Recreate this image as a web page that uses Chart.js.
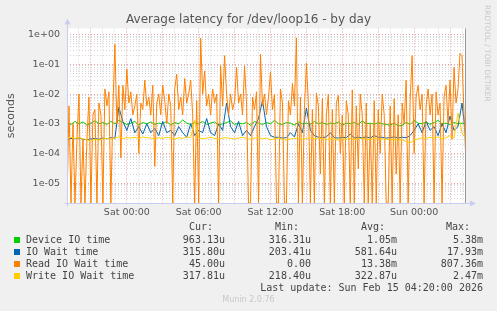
<!DOCTYPE html>
<html lang="en">
<head>
<meta charset="UTF-8">
<title>Average latency for /dev/loop16 - by day</title>
<script src="https://cdn.jsdelivr.net/npm/chart.js"></script>
<style>
  html, body { margin: 0; padding: 0; background: #f0f0f0; }
  #wrap { position: relative; width: 497px; height: 311px; overflow: hidden; }
  #c { position: absolute; left: 0; top: 0; }
  .t { position: absolute; font: 10px "DejaVu Sans Mono", monospace; color: #444; line-height: 12px; white-space: pre; }
  .sw { position: absolute; width: 6px; height: 6px; }
  #rrd { position: absolute; left: 483px; top: 5px; writing-mode: vertical-rl; font: 7.5px "DejaVu Sans", sans-serif; color: #c8c8c8; white-space: pre; }
  #munin { position: absolute; left: 0; width: 497px; top: 295px; text-align: center; font: 8px "DejaVu Sans", sans-serif; color: #c8c8c8; }
</style>
</head>
<body>
<div id="wrap">
  <canvas id="c" width="497" height="311"></canvas>
  <div id="rrd">RRDTOOL / TOBI OETIKER</div>
  <div id="munin">Munin 2.0.76</div>
</div>
<script>
// time axis: hours since Fri 00:00, one sample every 10 min (read) / 20 min (others)
const START_HOUR = 19;
const END_HOUR = 52 + 1 / 3;
const READ_STEP = 1 / 6;
const OTHER_STEP = 1 / 3;
const Y_MIN = 2.12e-6;
const Y_MAX = 1.655;

const xTickHours = [24, 30, 36, 42, 48];
const xTickLabels = ['Sat 00:00', 'Sat 06:00', 'Sat 12:00', 'Sat 18:00', 'Sun 00:00'];

const seriesNames = ['Device IO time', 'IO Wait time', 'Read IO Wait time', 'Write IO Wait time'];
const seriesColors = ['#00cc00', '#0066b3', '#ff8000', '#ffcc00'];
const curVals = ['963.13u', '315.80u', '45.00u', '317.81u'];
const minVals = ['316.31u', '203.41u', '0.00', '218.40u'];
const avgVals = ['1.05m', '581.64u', '13.38m', '322.87u'];
const maxVals = ['5.38m', '17.93m', '807.36m', '2.47m'];

const deviceIO = [
  1.1e-3, 9.5e-4, 1.2e-3, 1.0e-3, 1.15e-3, 9.0e-4, 1.05e-3, 1.25e-3, 1.0e-3, 1.1e-3,
  9.5e-4, 1.2e-3, 1.0e-3, 1.3e-3, 1.1e-3, 9.5e-4, 1.05e-3, 1.2e-3, 9.0e-4, 1.1e-3,
  1.0e-3, 1.15e-3, 9.5e-4, 1.05e-3, 1.0e-3, 1.2e-3, 9.0e-4, 1.1e-3, 1.0e-3, 1.35e-3,
  1.05e-3, 9.5e-4, 1.1e-3, 1.0e-3, 1.2e-3, 9.5e-4, 1.05e-3, 1.15e-3, 9.0e-4, 1.0e-3,
  1.1e-3, 1.25e-3, 9.5e-4, 1.05e-3, 1.0e-3, 1.1e-3, 9.0e-4, 1.2e-3, 1.05e-3, 9.5e-4,
  1.1e-3, 1.0e-3, 1.3e-3, 1.0e-3, 9.5e-4, 1.1e-3, 1.05e-3, 9.0e-4, 1.15e-3, 1.0e-3,
  1.05e-3, 9.5e-4, 1.2e-3, 1.0e-3, 1.1e-3, 9.5e-4, 1.05e-3, 1.0e-3, 1.15e-3, 9.0e-4,
  1.05e-3, 1.0e-3, 1.1e-3, 9.5e-4, 1.25e-3, 1.0e-3, 1.05e-3, 9.5e-4, 1.1e-3, 1.0e-3,
  9.5e-4, 9.0e-4, 1.05e-3, 8.5e-4, 8.8e-4, 1.1e-3, 9.5e-4, 1.3e-3, 1.05e-3, 1.0e-3,
  1.15e-3, 9.5e-4, 1.1e-3, 1.3e-3, 1.0e-3, 1.05e-3, 9.5e-4, 1.1e-3, 1.0e-3, 1.05e-3,
  9.63e-4
];

const ioWait = [
  3.0e-4, 3.2e-4, 3.1e-4, 3.3e-4, 3.0e-4, 2.9e-4, 3.1e-4, 3.2e-4, 3.0e-4, 3.3e-4,
  3.1e-4, 3.4e-4, 3.2e-4, 3.6e-3, 1.2e-3, 6.0e-4, 1.5e-3, 5.0e-4, 8.0e-4, 4.5e-4,
  1.0e-3, 5.0e-4, 7.0e-4, 4.0e-4, 1.2e-3, 5.0e-4, 6.0e-4, 4.0e-4, 8.0e-4, 5.0e-4,
  3.5e-4, 1.0e-3, 4.0e-4, 6.0e-4, 5.0e-4, 1.5e-3, 5.0e-4, 4.0e-4, 1.0e-3, 6.0e-4,
  5.0e-3, 8.0e-4, 5.0e-4, 1.2e-3, 4.0e-4, 6.0e-4, 4.0e-4, 8.0e-4, 1.5e-3, 6.0e-3,
  8.0e-4, 4.0e-4, 3.5e-4, 3.5e-4, 3.3e-4, 3.4e-4, 5.0e-4, 3.6e-4, 1.0e-3, 5.0e-4,
  3.4e-3, 6.0e-4, 4.0e-4, 3.5e-4, 3.4e-4, 3.6e-4, 5.0e-4, 3.4e-4, 3.3e-4, 3.5e-4,
  3.4e-4, 4.5e-4, 3.3e-4, 3.5e-4, 3.4e-4, 3.6e-4, 3.3e-4, 4.0e-4, 3.4e-4, 3.5e-4,
  3.3e-4, 3.4e-4, 3.6e-4, 3.3e-4, 3.5e-4, 3.4e-4, 4.0e-4, 6.0e-4, 1.0e-3, 5.0e-4,
  1.2e-3, 6.0e-4, 8.0e-4, 4.0e-4, 1.0e-3, 5.0e-4, 1.8e-3, 6.0e-4, 8.0e-4, 5.0e-3,
  3.16e-4
];

const readIOWait = [
  0, 4e-3, 0, 1e-3, 0, 3e-4, 1e-2, 0, 3e-4, 0,
  3e-4, 8e-3, 0, 2e-3, 3e-3, 0, 5e-3, 2e-3, 0, 1.5e-2,
  4e-3, 1.2e-2, 0, 3e-3, 0.48, 1e-3, 2e-2, 7e-5, 2e-2, 3e-3,
  7e-2, 5e-3, 1.2e-2, 2e-3, 4e-3, 1e-2, 1e-4, 5e-3, 3e-3, 3e-2,
  4e-3, 8e-3, 2e-3, 2e-2, 3.6e-5, 5e-3, 1e-2, 2e-3, 2e-2, 6e-3,
  1e-3, 1e-2, 4e-3, 0, 1.5e-2, 4.7e-2, 3e-3, 8e-3, 2e-3, 3.4e-2,
  5e-3, 1e-2, 3e-2, 2e-3, 0, 6e-3, 0, 0.78, 1e-2, 6e-2,
  4e-3, 1e-2, 2e-3, 1.5e-2, 5e-3, 1e-2, 0, 9e-2, 4e-3, 0.2,
  1e-2, 2e-3, 1e-2, 3e-3, 6e-3, 8e-2, 5e-3, 1e-2, 2e-3, 9e-2,
  5e-3, 0, 0, 8e-3, 3e-3, 1.2e-2, 0, 0.22, 4e-3, 1e-2,
  2e-3, 8e-3, 5.5e-2, 3e-3, 1e-2, 0, 0, 1.5e-2, 5e-3, 0,
  0, 6e-3, 2e-3, 2.3e-2, 4e-3, 0.8, 0, 8e-3, 0, 3e-3,
  0.11, 5e-3, 0, 3e-3, 0, 1.1e-2, 4e-3, 2e-5, 7e-3, 0,
  2e-3, 1e-2, 0, 3e-3, 0, 5e-3, 9e-3, 1e-4, 2e-3, 0,
  6e-3, 2e-3, 0, 1.4e-2, 0, 4e-3, 3e-5, 1e-2, 2e-3, 0,
  5e-3, 0, 1e-3, 0, 6e-3, 0, 3e-3, 1e-4, 1e-2, 2e-3,
  0, 0, 4e-3, 0, 7e-3, 2e-5, 2e-3, 0, 5e-3, 1e-3,
  3e-2, 0, 6e-3, 0.2, 1e-4, 8e-3, 2e-2, 3e-3, 1e-2, 0,
  4e-3, 1.5e-2, 2e-3, 1e-2, 0, 1.2e-2, 2e-3, 5e-3, 0, 8e-3,
  2e-2, 1e-3, 3e-2, 3e-4, 8e-2, 5e-3, 1.5e-2, 0.24, 0.2, 2e-3,
  4.5e-5
];

const writeIOWait = [
  3.3e-4, 3.5e-4, 3.2e-4, 3.4e-4, 3.1e-4, 2.9e-4, 2.6e-4, 3.0e-4, 2.8e-4, 3.1e-4,
  3.2e-4, 3.0e-4, 3.3e-4, 3.6e-4, 3.2e-4, 3.4e-4, 3.3e-4, 3.5e-4, 3.2e-4, 3.6e-4,
  3.4e-4, 3.3e-4, 3.1e-4, 3.4e-4, 3.2e-4, 3.5e-4, 3.3e-4, 3.0e-4, 3.4e-4, 3.2e-4,
  3.6e-4, 3.4e-4, 1.3e-3, 3.3e-4, 3.1e-4, 3.3e-4, 3.5e-4, 3.2e-4, 3.0e-4, 3.3e-4,
  3.4e-4, 3.2e-4, 3.1e-4, 3.3e-4, 3.5e-4, 3.2e-4, 3.0e-4, 3.3e-4, 3.4e-4, 3.1e-4,
  3.3e-4, 2.9e-4, 3.1e-4, 3.3e-4, 3.0e-4, 2.8e-4, 3.1e-4, 3.2e-4, 3.3e-4, 3.0e-4,
  3.2e-4, 3.4e-4, 3.1e-4, 3.3e-4, 3.2e-4, 2.9e-4, 3.1e-4, 3.0e-4, 2.8e-4, 3.1e-4,
  3.0e-4, 3.2e-4, 2.9e-4, 3.1e-4, 3.3e-4, 3.0e-4, 2.9e-4, 3.2e-4, 3.0e-4, 3.1e-4,
  3.0e-4, 2.9e-4, 3.0e-4, 2.8e-4, 2.9e-4, 2.5e-4, 2.3e-4, 2.8e-4, 3.1e-4, 3.4e-4,
  3.2e-4, 3.5e-4, 3.3e-4, 3.6e-4, 3.1e-4, 3.4e-4, 4.0e-4, 3.3e-4, 2.3e-3, 5.0e-4,
  3.18e-4
];

// zero on a log graph sits on the bottom edge, like rrdtool does
function toPoints(values, step) {
  return values.map((v, i) => ({ x: START_HOUR + i * step, y: Math.max(v, Y_MIN) }));
}

function isDecade(v) {
  const l = Math.log10(v);
  return Math.abs(l - Math.round(l)) < 1e-6;
}

function expLabel(v) {
  const e = Math.round(Math.log10(v));
  return '1e' + (e < 0 ? '-' : '+') + String(Math.abs(e)).padStart(2, '0');
}

const frame = {
  id: 'frame',
  beforeDraw(chart) {
    const { ctx, chartArea: a } = chart;
    ctx.save();
    ctx.fillStyle = '#ffffff';
    ctx.fillRect(a.left, a.top, a.right - a.left, a.bottom - a.top);
    ctx.restore();
  },
  afterDatasetsDraw(chart) {
    const { ctx, chartArea: a } = chart;
    ctx.save();
    // right edge
    ctx.strokeStyle = '#999999';
    ctx.lineWidth = 1;
    ctx.beginPath();
    ctx.moveTo(Math.round(a.right) - 0.5, a.top);
    ctx.lineTo(Math.round(a.right) - 0.5, a.bottom);
    ctx.stroke();
    // axes with arrows
    ctx.strokeStyle = '#c9cdf0';
    ctx.fillStyle = '#c9cdf0';
    const lx = Math.round(a.left) + 0.5, by = Math.round(a.bottom) + 0.5;
    ctx.beginPath();
    ctx.moveTo(lx, by + 3);
    ctx.lineTo(lx, a.top - 4);
    ctx.moveTo(lx - 3, by);
    ctx.lineTo(a.right + 4, by);
    ctx.stroke();
    ctx.beginPath();
    ctx.moveTo(lx - 3, a.top - 4);
    ctx.lineTo(lx + 3, a.top - 4);
    ctx.lineTo(lx, a.top - 10);
    ctx.closePath();
    ctx.fill();
    ctx.beginPath();
    ctx.moveTo(a.right + 4, by - 3);
    ctx.lineTo(a.right + 4, by + 3);
    ctx.lineTo(a.right + 10, by);
    ctx.closePath();
    ctx.fill();
    ctx.restore();
  }
};

const tickFont = { family: 'DejaVu Sans', size: 9.5 };

new Chart(document.getElementById('c'), {
  type: 'line',
  data: {
    datasets: [
      { label: seriesNames[3], data: toPoints(writeIOWait, OTHER_STEP), borderColor: seriesColors[3], order: 0 },
      { label: seriesNames[2], data: toPoints(readIOWait, READ_STEP), borderColor: seriesColors[2], order: 1 },
      { label: seriesNames[1], data: toPoints(ioWait, OTHER_STEP), borderColor: seriesColors[1], order: 2 },
      { label: seriesNames[0], data: toPoints(deviceIO, OTHER_STEP), borderColor: seriesColors[0], order: 3 }
    ]
  },
  options: {
    responsive: false,
    animation: false,
    events: [],
    elements: {
      line: { borderWidth: 1, tension: 0 },
      point: { radius: 0 }
    },
    layout: { autoPadding: false, padding: 0 },
    plugins: {
      legend: { display: false },
      tooltip: { enabled: false },
      title: {
        display: true,
        text: 'Average latency for /dev/loop16 - by day',
        color: '#555555',
        font: { family: 'DejaVu Sans', size: 12, weight: 'normal' },
        padding: { top: 13, bottom: 1 }
      }
    },
    scales: {
      x: {
        type: 'linear',
        min: START_HOUR,
        max: END_HOUR,
        afterBuildTicks(scale) {
          const t = [];
          for (let h = START_HOUR; h <= 52; h++) t.push({ value: h });
          scale.ticks = t;
        },
        afterFit(scale) { scale.height = 108; },
        ticks: {
          autoSkip: false,
          maxRotation: 0,
          padding: 4,
          color: '#555555',
          font: tickFont,
          callback(v) {
            const k = xTickHours.indexOf(v);
            return k >= 0 ? xTickLabels[k] : '';
          }
        },
        grid: {
          drawTicks: false,
          color: (ctx) => (ctx.tick && ctx.tick.value % 3 === 0 ? '#e6a3a3' : '#d6d6d6')
        },
        border: { display: false, dash: [1, 2] }
      },
      y: {
        type: 'logarithmic',
        min: Y_MIN,
        max: Y_MAX,
        afterBuildTicks(scale) {
          const t = [];
          for (let e = -6; e <= 0; e++) {
            for (let m = 1; m <= 9; m++) {
              const v = m * Math.pow(10, e);
              if (v >= Y_MIN && v <= Y_MAX) t.push({ value: v });
            }
          }
          scale.ticks = t;
        },
        afterFit(scale) { scale.width = 67; },
        title: {
          display: true,
          text: 'seconds',
          color: '#555555',
          font: { family: 'DejaVu Sans', size: 11 },
          padding: { top: 5, bottom: 0 }
        },
        ticks: {
          autoSkip: false,
          padding: 7,
          color: '#555555',
          font: tickFont,
          callback(v) { return isDecade(v) ? expLabel(v) : ''; }
        },
        grid: {
          drawTicks: false,
          color: (ctx) => (ctx.tick && isDecade(ctx.tick.value) ? '#e6a3a3' : '#d6d6d6')
        },
        border: { display: false, dash: [1, 2] }
      },
      // empty strip on the right, keeps the title centred on the whole image
      side: {
        type: 'linear',
        position: 'right',
        display: true,
        afterFit(scale) { scale.width = 31; },
        ticks: { display: false },
        grid: { display: false, drawTicks: false },
        border: { display: false }
      }
    }
  },
  plugins: [frame]
});

// legend table under the graph
const wrap = document.getElementById('wrap');
function addText(txt, top, opts) {
  const d = document.createElement('div');
  d.className = 't';
  d.textContent = txt;
  d.style.top = top + 'px';
  if (opts.left !== undefined) d.style.left = opts.left + 'px';
  if (opts.right !== undefined) { d.style.right = (497 - opts.right) + 'px'; d.style.textAlign = 'right'; }
  wrap.appendChild(d);
}
const colRight = [225, 311, 397, 483];
const headRight = [213, 299, 385, 470];
['Cur:', 'Min:', 'Avg:', 'Max:'].forEach((h, k) => addText(h, 221, { right: headRight[k] }));
seriesNames.forEach((name, i) => {
  const top = 234 + i * 12;
  const sw = document.createElement('div');
  sw.className = 'sw';
  sw.style.left = '14px';
  sw.style.top = (top + 3) + 'px';
  sw.style.background = seriesColors[i];
  wrap.appendChild(sw);
  addText(name, top, { left: 26 });
  [curVals[i], minVals[i], avgVals[i], maxVals[i]].forEach((v, k) => addText(v, top, { right: colRight[k] }));
});
addText('Last update: Sun Feb 15 04:20:00 2026', 282, { right: 483 });
</script>
</body>
</html>
